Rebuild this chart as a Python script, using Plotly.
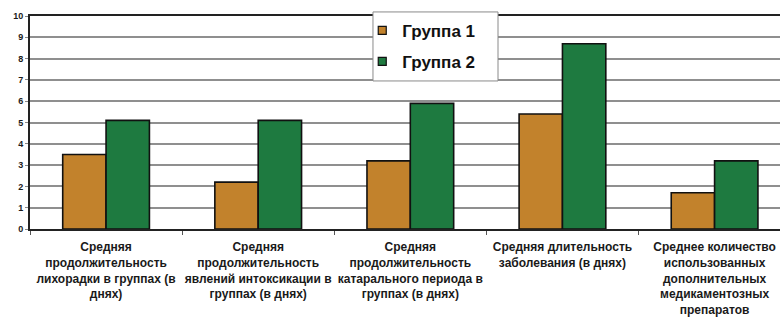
import plotly.graph_objects as go

categories = [
    "Средняя<br>продолжительность<br>лихорадки в группах (в<br>днях)",
    "Средняя<br>продолжительность<br>явлений интоксикации в<br>группах (в днях)",
    "Средняя<br>продолжительность<br>катарального периода в<br>группах (в днях)",
    "Средняя длительность<br>заболевания (в днях)",
    "Среднее количество<br>использованных<br>дополнительных<br>медикаментозных<br>препаратов",
]
group1 = [3.5, 2.2, 3.2, 5.4, 1.7]
group2 = [5.1, 5.1, 5.9, 8.7, 3.2]
series_names = ["Группа 1", "Группа 2"]
y_ticks = list(range(0, 11))

colors = ["#C2822C", "#1E7A40"]

fig = go.Figure()
for name, vals, col in zip(series_names, [group1, group2], colors):
    fig.add_trace(go.Bar(
        x=categories, y=vals, name=name, legendgroup=name, showlegend=False,
        marker=dict(color=col, line=dict(color="#111111", width=1.6)),
    ))
    # compact square legend key for each series
    fig.add_trace(go.Scatter(
        x=[None], y=[None], mode="markers", name=name, legendgroup=name,
        marker=dict(symbol="square", size=8, color=col,
                    line=dict(color="#111111", width=1.2)),
    ))

# white framed panel behind the legend entries
fig.add_shape(
    type="rect", xref="paper", yref="paper",
    x0=0.4573, x1=0.624, y0=0.695, y1=1.019,
    fillcolor="white", line=dict(color="#8a8a8a", width=1), layer="above",
)

fig.update_layout(
    width=780, height=320,
    margin=dict(l=30, r=0, t=16, b=91),
    paper_bgcolor="white", plot_bgcolor="white",
    barmode="group", bargap=0.43, bargroupgap=0,
    font=dict(family="Liberation Sans, Arial, sans-serif", color="#1a1a1a"),
    legend=dict(
        x=0.443, y=1.015, xanchor="left", yanchor="top",
        bgcolor="rgba(0,0,0,0)", borderwidth=0,
        font=dict(size=17, weight=700, color="#111111"),
        traceorder="grouped", tracegroupgap=6,
        itemwidth=30,
    ),
    xaxis=dict(
        range=[-0.5, 4.43],
        showline=True, linecolor="#222222", linewidth=2, mirror=True,
        ticks="outside", tickson="boundaries", ticklen=4, tickcolor="#555555",
        tickfont=dict(size=12, weight=700, color="#1a1a1a"),
        ticklabelstandoff=6,
        showgrid=False, tickangle=0,
    ),
    yaxis=dict(
        range=[0, 10], tickvals=y_ticks,
        showline=True, linecolor="#222222", linewidth=2,
        showgrid=True, gridcolor="#8f8f8f", gridwidth=1.5,
        ticks="outside", ticklen=3, tickcolor="#888888",
        tickfont=dict(size=9, weight=700, color="#1a1a1a"),
        zeroline=False,
    ),
    showlegend=True,
)

fig.write_html("out.html")
